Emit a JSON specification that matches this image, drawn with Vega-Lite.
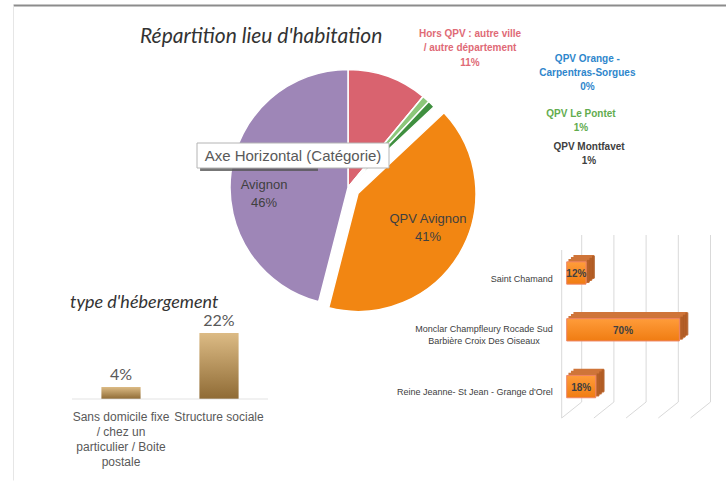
{
  "$schema": "https://vega.github.io/schema/vega-lite/v6.json",
  "width": 726,
  "height": 485,
  "autosize": {"type": "fit", "contains": "padding"},
  "padding": {"top": 5, "left": 13, "right": 0, "bottom": 0},
  "background": "#ffffff",
  "config": {"view": {"stroke": null}, "text": {"font": "Liberation Sans"}},
  "title": {"text": "Répartition lieu d'habitation", "anchor": "start", "frame": "group", "dx": 127, "offset": -42, "font": "Lato", "fontSize": 21, "fontStyle": "italic", "fontWeight": "normal", "color": "#333333"},
  "datasets": {
    "pie": [
      {"cat": "Hors QPV : autre ville / autre département", "pct": 11, "ord": 1, "lbl": "Hors QPV : autre ville\n/ autre département\n11%"},
      {"cat": "QPV Orange - Carpentras-Sorgues", "pct": 0, "ord": 2, "lbl": "QPV Orange -\nCarpentras-Sorgues\n0%"},
      {"cat": "QPV Le Pontet", "pct": 1, "ord": 3, "lbl": "QPV Le Pontet\n1%"},
      {"cat": "QPV Montfavet", "pct": 1, "ord": 4, "lbl": "QPV Montfavet\n1%"},
      {"cat": "QPV Avignon", "pct": 41, "ord": 5, "lbl": "QPV Avignon\n41%"},
      {"cat": "Avignon", "pct": 46, "ord": 6, "lbl": "Avignon\n46%"}
    ],
    "heb": [
      {"h": "Sans domicile fixe\n/ chez un\nparticulier / Boite\npostale", "pct": 0.04},
      {"h": "Structure sociale", "pct": 0.22}
    ],
    "quartiers": [
      {"q": "Saint Chamand", "pct": 0.12},
      {"q": "Monclar Champfleury Rocade Sud\nBarbière Croix Des Oiseaux", "pct": 0.70},
      {"q": "Reine Jeanne- St Jean - Grange d'Orel", "pct": 0.18}
    ],
    "grid": [{"v": 0}, {"v": 0.2}, {"v": 0.4}, {"v": 0.6}, {"v": 0.8}],
    "tip": [{"tip": "Axe Horizontal (Catégorie)"}]
  },
  "layer": [
    {
      "data": {"name": "tip"},
      "mark": {"type": "text", "text": ""},
      "encoding": {
        "x": {"datum": 0, "type": "quantitative", "scale": {"domain": [0, 1], "nice": false}, "axis": {"orient": "top", "domain": true, "domainColor": "#8c8c8c", "domainWidth": 2, "ticks": false, "labels": false, "grid": false, "title": null}},
        "y": {"datum": 0, "type": "quantitative", "scale": {"domain": [0, 1], "nice": false}, "axis": {"orient": "left", "domain": true, "domainColor": "#e6e6e6", "domainWidth": 1, "ticks": false, "labels": false, "grid": false, "title": null}}
      }
    },
    {
      "data": {"name": "grid"},
      "encoding": {"x": {"field": "v", "type": "quantitative", "scale": {"domain": [0, 1], "range": [553.7, 714.7], "nice": false}, "axis": null}},
      "layer": [
        {"mark": {"type": "rule", "color": "#d9d9d9", "xOffset": 15},
         "encoding": {"y": {"datum": 0, "type": "quantitative", "scale": {"domain": [0, 1], "range": [397, 230], "nice": false}, "axis": null}, "y2": {"datum": 1}}},
        {"mark": {"type": "rule", "color": "#d9d9d9", "xOffset": 15, "x2Offset": -5, "y2Offset": 16},
         "encoding": {"x2": {"field": "v"}, "y": {"datum": 0, "type": "quantitative", "scale": {"domain": [0, 1], "range": [397, 230], "nice": false}, "axis": null}, "y2": {"datum": 0}}},
        {"transform": [{"filter": "datum.v === 0"}],
         "mark": {"type": "rule", "color": "#d9d9d9", "xOffset": -5, "yOffset": 16, "y2Offset": 15},
         "encoding": {"y": {"datum": 0, "type": "quantitative", "scale": {"domain": [0, 1], "range": [397, 230], "nice": false}, "axis": null}, "y2": {"datum": 1}}}
      ]
    },
    {
      "data": {"name": "quartiers"},
      "encoding": {
        "y": {"field": "q", "type": "nominal", "sort": null, "scale": {"range": [239.6, 410], "paddingInner": 0.607, "paddingOuter": 0.3035}, "axis": null},
        "x": {"field": "pct", "type": "quantitative", "scale": {"domain": [0, 1], "range": [553.7, 714.7], "nice": false}, "axis": null}
      },
      "layer": [
        {"mark": {"type": "bar", "color": "#CF7539", "stroke": "#CF7539", "strokeWidth": 1.5, "xOffset": 7.5, "x2Offset": 7.5, "yOffset": -6, "y2Offset": -6}},
        {"mark": {"type": "bar", "color": "#CF7539", "stroke": "#CF7539", "strokeWidth": 1.5, "xOffset": 5, "x2Offset": 5, "yOffset": -4, "y2Offset": -4}},
        {"mark": {"type": "bar", "color": "#CF7539", "stroke": "#CF7539", "strokeWidth": 1.5, "xOffset": 2.5, "x2Offset": 2.5, "yOffset": -2, "y2Offset": -2}},
        {"mark": {"type": "tick", "color": "#A8561F", "thickness": 3, "size": 22.3, "xOffset": 7.5, "yOffset": -6}},
        {"mark": {"type": "tick", "color": "#A8561F", "thickness": 3, "size": 22.3, "xOffset": 5, "yOffset": -4}},
        {"mark": {"type": "tick", "color": "#A8561F", "thickness": 3, "size": 22.3, "xOffset": 2.5, "yOffset": -2}},
        {"mark": {"type": "bar", "color": {"gradient": "linear", "x1": 0, "y1": 0, "x2": 0, "y2": 1, "stops": [{"offset": 0, "color": "#FF9C3A"}, {"offset": 1, "color": "#F07C12"}]}, "stroke": "#EE8466", "strokeWidth": 1}},
        {"mark": {"type": "text", "align": "right", "baseline": "middle", "dx": -14, "dy": 5.5, "fontSize": 9, "color": "#404040"},
         "encoding": {"x": {"datum": 0, "type": "quantitative"}, "text": {"field": "q", "type": "nominal", "condition": {"test": "indexof(datum.q, 'Monclar') >= 0", "value": ""}}}},
        {"mark": {"type": "text", "align": "center", "baseline": "middle", "dx": -82.7, "dy": -0.5, "fontSize": 9, "lineBreak": "\n", "lineHeight": 11.7, "color": "#404040"},
         "encoding": {"x": {"datum": 0, "type": "quantitative"}, "text": {"field": "q", "type": "nominal", "condition": {"test": "indexof(datum.q, 'Monclar') < 0", "value": ""}}}}
      ]
    },
    {
      "data": {"name": "quartiers"},
      "mark": {"type": "text", "fontSize": 10, "fontWeight": "bold", "color": "#404040", "baseline": "middle", "align": "center", "dy": 1},
      "encoding": {
        "y": {"field": "q", "type": "nominal", "sort": null, "scale": {"range": [239.6, 410], "paddingInner": 0.607, "paddingOuter": 0.3035}, "axis": null},
        "x": {"field": "pct", "type": "quantitative", "scale": {"domain": [0, 1], "range": [553.7, 634.2], "nice": false}, "axis": null},
        "text": {"field": "pct", "type": "quantitative", "format": ".0%"}
      }
    },
    {
      "data": {"name": "heb"},
      "encoding": {
        "x": {"field": "h", "type": "nominal", "sort": null, "scale": {"range": [59, 255], "paddingInner": 0.6, "paddingOuter": 0.3}, "axis": null},
        "y": {"field": "pct", "type": "quantitative", "scale": {"domain": [0, 0.25], "range": [394, 319], "nice": false}, "axis": null}
      },
      "layer": [
        {"mark": {"type": "bar", "color": {"gradient": "linear", "x1": 0, "y1": 0, "x2": 0, "y2": 1, "stops": [{"offset": 0, "color": "#DCBB85"}, {"offset": 1, "color": "#8F6B35"}]}}},
        {"mark": {"type": "tick", "size": 98, "thickness": 1, "color": "#d9d9d9"}, "encoding": {"y": {"datum": 0, "type": "quantitative"}}},
        {"mark": {"type": "text", "dy": -12, "font": "Lato", "fontSize": 16, "color": "#595959", "baseline": "middle"},
         "encoding": {"text": {"field": "pct", "type": "quantitative", "format": ".0%"}}},
        {"mark": {"type": "text", "baseline": "top", "dy": 13, "lineBreak": "\n", "lineHeight": 15, "fontSize": 12, "color": "#595959"},
         "encoding": {"y": {"datum": 0, "type": "quantitative"}, "text": {"field": "h", "type": "nominal"}}},
        {"transform": [{"filter": "indexof(datum.h, 'Sans') === 0"}],
         "mark": {"type": "text", "align": "left", "baseline": "middle", "font": "Lato", "fontStyle": "italic", "fontSize": 18, "color": "#333333", "dx": -31.4, "dy": -30, "text": "type d'hébergement"},
         "encoding": {"x": {"field": "h", "type": "nominal", "bandPosition": 0}, "y": {"datum": 0.22, "type": "quantitative"}}}
      ]
    },
    {
      "data": {"name": "pie"},
      "encoding": {
        "theta": {"field": "pct", "type": "quantitative", "stack": true},
        "order": {"field": "ord", "type": "quantitative"}
      },
      "layer": [
        {"mark": {"type": "arc", "outerRadius": 118, "stroke": "#ffffff", "strokeWidth": 1.5, "xOffset": -21.5, "yOffset": -55},
         "encoding": {
           "color": {"field": "cat", "type": "nominal", "legend": null, "scale": {"domain": ["Hors QPV : autre ville / autre département", "QPV Orange - Carpentras-Sorgues", "QPV Le Pontet", "QPV Montfavet", "QPV Avignon", "Avignon"], "range": ["#D9636F", "#5B9BD5", "#8CC77A", "#3F8F3F", "#F28612", "#9E86B7"]}},
           "opacity": {"condition": {"test": "datum.ord === 5", "value": 0}, "value": 1}}},
        {"mark": {"type": "arc", "outerRadius": 118, "stroke": "#ffffff", "strokeWidth": 1.5, "xOffset": -11.5, "yOffset": -49},
         "encoding": {
           "color": {"field": "cat", "type": "nominal", "legend": null, "scale": {"domain": ["Hors QPV : autre ville / autre département", "QPV Orange - Carpentras-Sorgues", "QPV Le Pontet", "QPV Montfavet", "QPV Avignon", "Avignon"], "range": ["#D9636F", "#5B9BD5", "#8CC77A", "#3F8F3F", "#F28612", "#9E86B7"]}},
           "opacity": {"condition": {"test": "datum.ord === 5", "value": 1}, "value": 0}}},
        {"mark": {"type": "text", "radius": 130, "lineBreak": "\n", "align": "center", "baseline": "middle", "fontSize": 10, "fontWeight": "bold", "lineHeight": 14.5, "color": "#E06A76", "dx": 56.5, "dy": -86.5},
         "encoding": {"text": {"field": "lbl", "type": "nominal", "condition": {"test": "datum.ord !== 1", "value": ""}}}},
        {"mark": {"type": "text", "radius": 130, "lineBreak": "\n", "align": "center", "baseline": "middle", "fontSize": 10, "fontWeight": "bold", "lineHeight": 14, "color": "#2E86CC", "dx": 135, "dy": -83.8},
         "encoding": {"text": {"field": "lbl", "type": "nominal", "condition": {"test": "datum.ord !== 2", "value": ""}}}},
        {"mark": {"type": "text", "radius": 130, "lineBreak": "\n", "align": "center", "baseline": "middle", "fontSize": 10, "fontWeight": "bold", "lineHeight": 14, "color": "#62AC4E", "dx": 125.5, "dy": -30.5},
         "encoding": {"text": {"field": "lbl", "type": "nominal", "condition": {"test": "datum.ord !== 3", "value": ""}}}},
        {"mark": {"type": "text", "radius": 130, "lineBreak": "\n", "align": "center", "baseline": "middle", "fontSize": 10, "fontWeight": "bold", "lineHeight": 14, "color": "#404040", "dx": 127.6, "dy": -3.1},
         "encoding": {"text": {"field": "lbl", "type": "nominal", "condition": {"test": "datum.ord !== 4", "value": ""}}}},
        {"mark": {"type": "text", "radius": 82, "lineBreak": "\n", "align": "center", "baseline": "middle", "fontSize": 13, "lineHeight": 18, "color": "#404040", "dx": -12.1, "dy": -65.2},
         "encoding": {"text": {"field": "lbl", "type": "nominal", "condition": {"test": "datum.ord !== 5", "value": ""}}}},
        {"mark": {"type": "text", "radius": 82, "lineBreak": "\n", "align": "center", "baseline": "middle", "fontSize": 13, "lineHeight": 18, "color": "#404040", "dx": -24.1, "dy": -47.2},
         "encoding": {"text": {"field": "lbl", "type": "nominal", "condition": {"test": "datum.ord !== 6", "value": ""}}}}
      ]
    },
    {
      "data": {"name": "tip"},
      "layer": [
        {"mark": {"type": "rect", "color": "#555555", "opacity": 0.8},
         "encoding": {
           "x": {"datum": 0.016, "type": "quantitative", "scale": {"domain": [0, 1], "range": [184, 376], "nice": false}, "axis": null},
           "x2": {"datum": 0.63},
           "y": {"datum": -0.12, "type": "quantitative", "scale": {"domain": [0, 1], "range": [163, 138], "nice": false}, "axis": null},
           "y2": {"datum": 0.08}}},
        {"mark": {"type": "rect", "fill": "#ffffff", "stroke": "#b4b4b4", "strokeWidth": 1},
         "encoding": {
           "x": {"datum": 0, "type": "quantitative", "scale": {"domain": [0, 1], "range": [184, 376], "nice": false}, "axis": null},
           "x2": {"datum": 1},
           "y": {"datum": 0, "type": "quantitative", "scale": {"domain": [0, 1], "range": [163, 138], "nice": false}, "axis": null},
           "y2": {"datum": 1}}},
        {"mark": {"type": "text", "fontSize": 15, "color": "#595959", "align": "center", "baseline": "middle"},
         "encoding": {
           "x": {"datum": 0.5, "type": "quantitative", "scale": {"domain": [0, 1], "range": [184, 376], "nice": false}, "axis": null},
           "y": {"datum": 0.5, "type": "quantitative", "scale": {"domain": [0, 1], "range": [163, 138], "nice": false}, "axis": null},
           "text": {"field": "tip", "type": "nominal"}}}
      ]
    }
  ],
  "resolve": {"scale": {"x": "independent", "y": "independent", "theta": "independent", "color": "independent"}}
}
